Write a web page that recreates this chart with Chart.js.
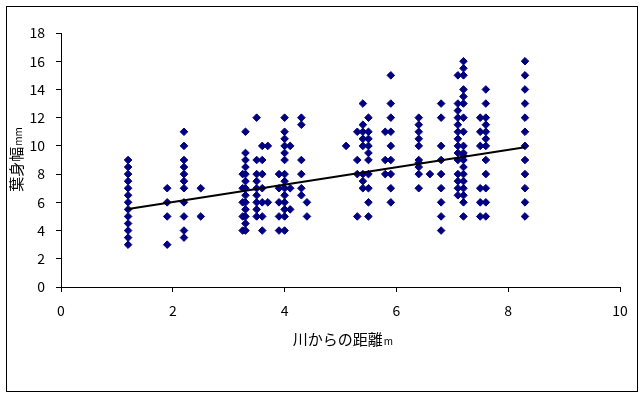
<!DOCTYPE html>
<html>
<head>
<meta charset="utf-8">
<script src="https://cdn.jsdelivr.net/npm/chart.js@4/dist/chart.umd.min.js"></script>
<style>
  html, body { margin: 0; padding: 0; background: #fff; }
  #wrap { position: relative; width: 644px; height: 397px; }
</style>
</head>
<body>
<div id="wrap"><canvas id="chartCanvas" width="644" height="397"></canvas></div>
<script>
// 川からの距離 (m) ごとの測定列
const distances = [1.2, 1.9, 2.2, 2.5, 3.25, 3.3, 3.5, 3.6, 3.7, 3.9, 4.0, 4.1, 4.3, 4.4,
    5.1, 5.3, 5.4, 5.5, 5.8, 5.9, 6.4, 6.6, 6.8, 7.1, 7.2, 7.5, 7.6, 8.3];

// 葉身幅 (mm) — distances と同じ順
const widths = [
    [3, 3.5, 4, 4.5, 5, 5.5, 6, 6.5, 7, 7.5, 8, 8.5, 9],
    [3, 5, 6, 7],
    [3.5, 4, 5, 6, 7, 7.5, 8, 8.5, 9, 10, 11],
    [5, 7],
    [4, 5, 6, 7, 8],
    [4, 4.5, 5, 5.5, 6, 6.5, 7, 7.5, 8, 8.5, 9, 9.5, 11],
    [5, 5.5, 6, 6.5, 7, 7.5, 8, 9, 12],
    [4, 5, 6, 7, 8, 9, 10],
    [6, 10],
    [4, 5, 6, 7, 8],
    [4, 5, 5.5, 6, 6.5, 7, 7.5, 8, 9, 9.5, 10, 10.5, 11, 12],
    [5.5, 7, 10],
    [6.5, 7, 8, 9, 11.5, 12],
    [5, 6],
    [10],
    [5, 8, 9, 11],
    [7, 7.5, 8, 10, 10.5, 11, 11.5, 13],
    [5, 6, 7, 8, 9, 9.5, 10, 10.5, 11, 12],
    [8, 9, 11],
    [6, 7, 8, 9, 10, 11, 12, 13, 15],
    [7, 8, 8.5, 8.8, 9, 10, 10.5, 11, 11.5, 12],
    [8],
    [4, 5, 6, 7, 8, 9, 10, 12, 13],
    [6.5, 7, 7.5, 8, 9, 9.5, 10, 10.5, 11, 11.5, 12, 12.5, 13, 15],
    [5, 6, 6.5, 7, 7.5, 8, 8.5, 9, 9.3, 9.5, 10, 11, 12, 13, 13.5, 14, 15, 15.5, 16],
    [5, 6, 7, 10, 11, 12],
    [5, 6, 7, 8, 9, 10, 10.5, 11, 11.5, 12, 13, 14],
    [5, 6, 7, 8, 9, 10, 11, 12, 13, 14, 15, 16]
];

// 近似直線の両端
const trendX = [1.2, 8.3];
const trendY = [5.53, 9.9];

const xTicks = [0, 2, 4, 6, 8, 10];
const yTicks = [0, 2, 4, 6, 8, 10, 12, 14, 16, 18];

// タイトル: 本文 + 小さい単位
const xTitle = ['川からの距離', 'm'];
const yTitle = ['葉身幅', 'mm'];

const FONT = "'Noto Sans CJK JP', 'DejaVu Sans', sans-serif";

const points = [];
distances.forEach((d, i) => {
    widths[i].forEach(w => points.push({ x: d, y: w }));
});
const trend = trendX.map((x, i) => ({ x, y: trendY[i] }));

function drawTitle(ctx, parts, cx, cy) {
    const big = '15px ' + FONT, small = '10px ' + FONT;
    ctx.font = big;
    const w1 = ctx.measureText(parts[0]).width;
    ctx.font = small;
    const w2 = ctx.measureText(parts[1]).width;
    let x = cx - (w1 + w2) / 2;
    ctx.textAlign = 'left';
    ctx.textBaseline = 'alphabetic';
    ctx.font = big;
    ctx.fillText(parts[0], x, cy + 5);
    ctx.font = small;
    ctx.fillText(parts[1], x + w1 + 1, cy + 5);
}

// 外枠と軸タイトル
const framePlugin = {
    id: 'frame',
    afterDraw(chart) {
        const { ctx, chartArea } = chart;
        ctx.save();
        ctx.strokeStyle = '#000';
        ctx.lineWidth = 1;
        ctx.strokeRect(6.5, 6.5, 631, 385);

        ctx.fillStyle = '#000';
        drawTitle(ctx, xTitle, (chartArea.left + chartArea.right) / 2 + 2, 340);

        ctx.translate(17, (chartArea.top + chartArea.bottom) / 2);
        ctx.rotate(-Math.PI / 2);
        drawTitle(ctx, yTitle, 0, 0);
        ctx.restore();
    }
};

new Chart(document.getElementById('chartCanvas'), {
    data: {
        datasets: [
            {
                type: 'scatter',
                data: points,
                pointStyle: 'rectRot',
                pointRadius: 3.8,
                pointBackgroundColor: '#000080',
                pointBorderColor: '#000080',
                pointBorderWidth: 1,
                order: 2
            },
            {
                type: 'line',
                data: trend,
                borderColor: '#000',
                borderWidth: 2,
                pointRadius: 0,
                fill: false,
                tension: 0,
                order: 1
            }
        ]
    },
    options: {
        responsive: false,
        animation: false,
        events: [],
        layout: { padding: { left: 0, top: 33, right: 24, bottom: 0 } },
        plugins: { legend: { display: false }, tooltip: { enabled: false } },
        scales: {
            x: {
                type: 'linear',
                min: 0, max: 10,
                afterFit: s => { s.height = 110; },
                afterBuildTicks: s => { s.ticks = xTicks.map(v => ({ value: v })); },
                grid: { drawOnChartArea: false, drawTicks: true, tickLength: 5, color: '#000' },
                border: { display: true, color: '#000', width: 1 },
                ticks: { color: '#000', padding: 10, maxRotation: 0, font: { family: FONT, size: 14 } }
            },
            y: {
                type: 'linear',
                min: 0, max: 18,
                afterFit: s => { s.width = 61; },
                afterBuildTicks: s => { s.ticks = yTicks.map(v => ({ value: v })); },
                grid: { drawOnChartArea: false, drawTicks: true, tickLength: 5, color: '#000' },
                border: { display: true, color: '#000', width: 1 },
                ticks: { color: '#000', padding: 11, font: { family: FONT, size: 14 } }
            }
        }
    },
    plugins: [framePlugin]
});
</script>
</body>
</html>
